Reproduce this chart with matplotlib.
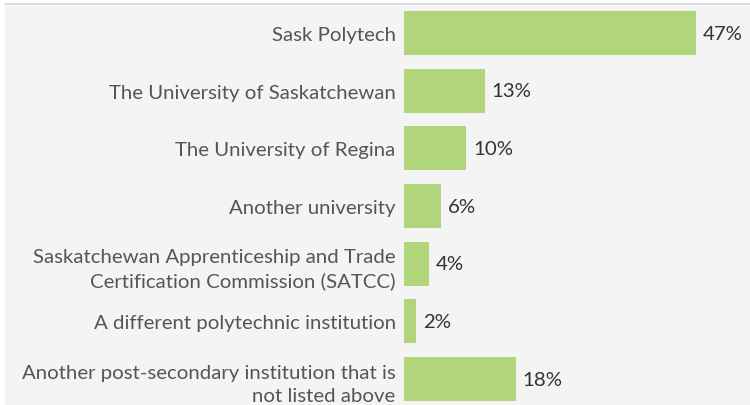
import matplotlib.pyplot as plt
from matplotlib.patches import Rectangle
from matplotlib.lines import Line2D

# institution categories and share of respondents (%)
labels = [
    "Sask Polytech",
    "The University of Saskatchewan",
    "The University of Regina",
    "Another university",
    "Saskatchewan Apprenticeship and Trade\nCertification Commission (SATCC)",
    "A different polytechnic institution",
    "Another post-secondary institution that is\nnot listed above",
]
values = [47, 13, 10, 6, 4, 2, 18]

plt.rcParams['font.family'] = ['Lato', 'DejaVu Sans']

fig = plt.figure(figsize=(7.5, 4.06), dpi=100, facecolor='white')

# gray panel behind everything
bg = Rectangle((5 / 750, 0), 1, 1 - 5 / 406, transform=fig.transFigure,
               facecolor='#f4f4f4', edgecolor='none', zorder=-5)
fig.add_artist(bg)
fig.add_artist(Line2D([5 / 750, 1], [1 - 4.5 / 406, 1 - 4.5 / 406], transform=fig.transFigure,
                      color='#d6d6d6', linewidth=1.2, zorder=-4))

ax = fig.add_axes([404 / 750, 0, 346 / 750, 401 / 406])
ax.set_facecolor('none')
ax.set_zorder(2)

pos = list(range(len(values)))
ax.barh(pos, values, height=0.763, color='#b0d57b')
ax.set_xlim(0, 47 * 346 / 292)
ax.set_ylim(6.45, -0.503)

ax.set_yticks(pos)
ax.set_yticklabels(labels, fontsize=14.7, color='#555555', linespacing=1.45)
ax.tick_params(axis='y', length=0, pad=6)
ax.set_xticks([])
for s in ax.spines.values():
    s.set_visible(False)

for p, v in zip(pos, values):
    ax.annotate(f"{v}%", (v, p), xytext=(5, 0), textcoords='offset points',
                ha='left', va='center', fontsize=14.7, color='#333333')

plt.savefig('out.png', dpi=100)
